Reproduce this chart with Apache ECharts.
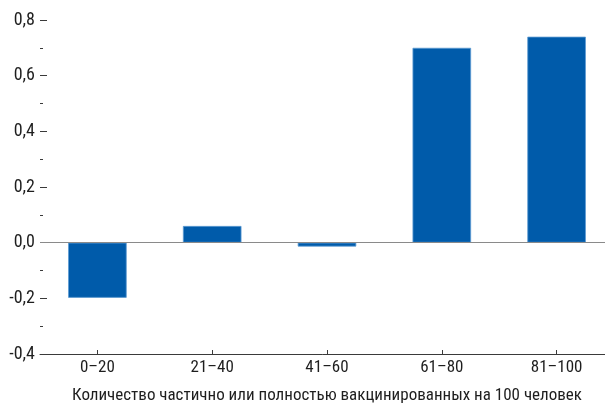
<!DOCTYPE html>
<html>
<head>
<meta charset="utf-8">
<script src="https://cdn.jsdelivr.net/npm/echarts@6/dist/echarts.min.js"></script>
<style>
html,body{margin:0;padding:0;background:#fff;}
#c{width:605px;height:404px;}
</style>
</head>
<body>
<div id="c"></div>
<script>
const categories = ['0–20', '21–40', '41–60', '61–80', '81–100'];
const values = [-0.198, 0.06, -0.014, 0.70, 0.74];
const yTicks = [-0.4, -0.2, 0.0, 0.2, 0.4, 0.6, 0.8];
const xTitle = 'Количество частично или полностью вакцинированных на 100 человек';

const FONT = '"Roboto Condensed", Roboto, sans-serif';
const chart = echarts.init(document.getElementById('c'), null, {renderer: 'canvas'});
chart.setOption({
  animation: false,
  grid: {left: 40, top: 20, bottom: 50, width: 574, containLabel: false, outerBoundsMode: 'none'},
  xAxis: {
    type: 'category',
    data: categories,
    axisLine: {onZero: false, lineStyle: {color: '#3a3a3a', width: 1}},
    axisTick: {show: true, inside: true, alignWithLabel: true, length: 4, lineStyle: {color: '#3a3a3a'}},
    axisLabel: {color: '#1e1e1e', fontFamily: FONT, fontSize: 17, margin: 5},
    name: xTitle,
    nameLocation: 'middle',
    nameGap: 33,
    nameTextStyle: {color: '#1e1e1e', fontFamily: FONT, fontSize: 17}
  },
  yAxis: {
    type: 'value',
    min: yTicks[0],
    max: yTicks[yTicks.length - 1],
    interval: 0.2,
    axisLine: {show: false},
    axisTick: {show: true, inside: true, length: 7, lineStyle: {color: '#3a3a3a'}},
    minorTick: {show: true, splitNumber: 2, length: 3, lineStyle: {color: '#3a3a3a'}},
    splitLine: {show: false},
    axisLabel: {
      color: '#1e1e1e', fontFamily: FONT, fontSize: 18, margin: 5,
      formatter: v => v.toFixed(1).replace('.', ',')
    }
  },
  series: [{
    type: 'bar',
    data: values,
    barWidth: '51%',
    itemStyle: {color: '#005BAA', borderColor: '#5C9AD2', borderWidth: 0.8},
    markLine: {
      silent: true,
      symbol: 'none',
      label: {show: false},
      lineStyle: {color: '#8a8a8a', width: 1, type: 'solid'},
      data: [{yAxis: 0}]
    },
    z: 3
  }]
});
</script>
</body>
</html>
